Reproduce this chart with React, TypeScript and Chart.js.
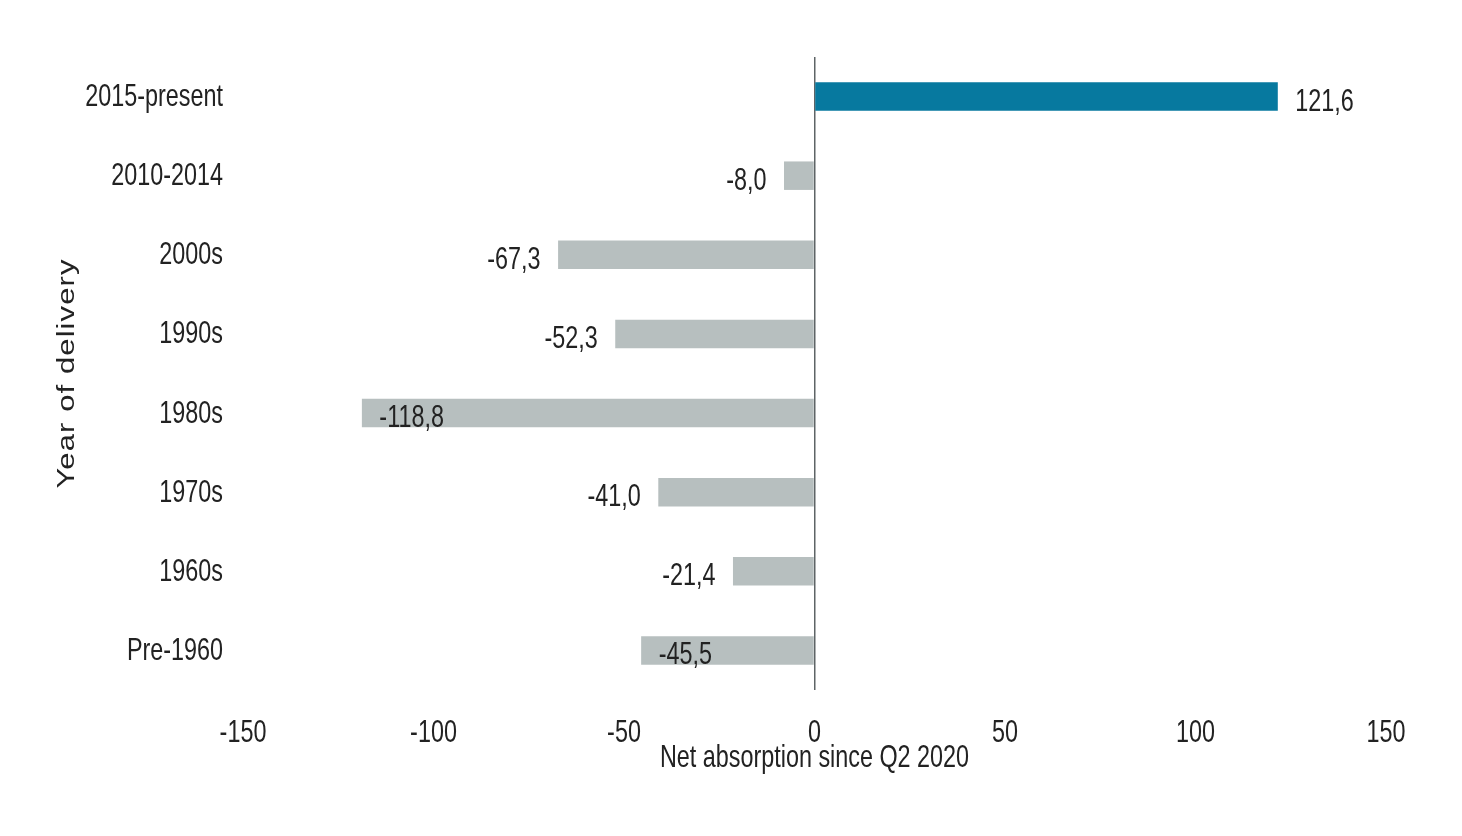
import React, { useEffect, useRef } from 'react';
import { Chart, registerables } from 'chart.js';

Chart.register(...registerables);

const categories = ['2015-present', '2010-2014', '2000s', '1990s', '1980s', '1970s', '1960s', 'Pre-1960'];
const netAbsorption = [121.6, -8.0, -67.3, -52.3, -118.8, -41.0, -21.4, -45.5];
const xTickValues = [-150, -100, -50, 0, 50, 100, 150];
const xTitle = 'Net absorption since Q2 2020';
const yTitle = 'Year of delivery';

const SANS = '"Liberation Sans", Arial, sans-serif';
const TEXT = '#222222';
const POS_COLOR = '#07799f';
const NEG_COLOR = '#b7bfbf';

function drawScaled(ctx: CanvasRenderingContext2D, text: string, x: number, y: number, align: CanvasTextAlign, sx: number) {
  ctx.save();
  ctx.translate(x, y);
  ctx.scale(sx, 1);
  ctx.textAlign = align;
  ctx.textBaseline = 'alphabetic';
  ctx.fillText(text, 0, 0);
  ctx.restore();
}

const narrowText = {
  id: 'narrowText',
  afterDraw(chart: any, _args: any, opts: any) {
    const { ctx, chartArea } = chart;
    const xs = chart.scales.x;
    const ys = chart.scales.y;
    const sx = opts.scaleX;
    ctx.save();
    ctx.fillStyle = opts.color;
    ctx.font = `${opts.size}px ${SANS}`;

    // y tick labels
    (chart.data.labels as string[]).forEach((lab, i) => {
      const py = ys.getPixelForValue(i);
      drawScaled(ctx, lab, chartArea.left - opts.yTickGap, py + opts.yTickDy, 'right', sx);
    });

    // x tick labels
    xTickValues.forEach((v) => {
      const px = xs.getPixelForValue(v);
      drawScaled(ctx, String(v), px, chartArea.bottom + opts.xTickDy, 'center', sx);
    });

    // x title
    drawScaled(ctx, xTitle, (chartArea.left + chartArea.right) / 2, chartArea.bottom + opts.xTitleDy, 'center', sx);

    // value labels
    const meta = chart.getDatasetMeta(0);
    const data = chart.data.datasets[0].data as number[];
    meta.data.forEach((bar: any, i: number) => {
      const v = data[i];
      const { x, y } = bar.getProps(['x', 'y'], true);
      const txt = v.toFixed(1).replace('.', ',');
      const inside = opts.placement[i] === 'inside';
      if (v >= 0 || inside) {
        drawScaled(ctx, txt, x + opts.valueGap, y + opts.valueDy, 'left', sx);
      } else {
        drawScaled(ctx, txt, x - opts.valueGap, y + opts.valueDy, 'right', sx);
      }
    });

    // y title (rotated)
    ctx.save();
    ctx.font = `${opts.yTitleSize}px ${SANS}`;
    (ctx as any).letterSpacing = opts.yTitleSpacing;
    ctx.translate(opts.yTitleX, (chartArea.top + chartArea.bottom) / 2 + opts.yTitleDy);
    ctx.rotate(-Math.PI / 2);
    ctx.scale(opts.yTitleScale, 1);
    ctx.textAlign = 'center';
    ctx.textBaseline = 'alphabetic';
    ctx.fillText(yTitle, 0, 0);
    ctx.restore();

    ctx.restore();
  },
};

export default function App() {
  const ref = useRef<HTMLCanvasElement | null>(null);

  useEffect(() => {
    if (!ref.current) return;
    const chart = new Chart(ref.current, {
      type: 'bar',
      data: {
        labels: categories,
        datasets: [
          {
            data: netAbsorption,
            backgroundColor: netAbsorption.map((v) => (v >= 0 ? POS_COLOR : NEG_COLOR)),
            borderWidth: 0,
            barPercentage: 0.36,
            categoryPercentage: 1,
          },
        ],
      },
      options: {
        indexAxis: 'y',
        animation: false,
        responsive: true,
        maintainAspectRatio: false,
        layout: { padding: { top: 57, right: 76, left: 0, bottom: 61.6 } },
        plugins: {
          legend: { display: false },
          tooltip: { enabled: false },
          narrowText: {
            color: TEXT,
            size: 32,
            scaleX: 0.73,
            yTickGap: 20,
            yTickDy: 9.5,
            xTickDy: 52,
            xTitleDy: 77,
            valueGap: 17.5,
            valueDy: 14,
            placement: ['outside', 'outside', 'outside', 'outside', 'inside', 'outside', 'outside', 'inside'],
            yTitleSize: 23,
            yTitleScale: 1.35,
            yTitleSpacing: '0.8px',
            yTitleX: 73.5,
            yTitleDy: 0,
          },
        } as any,
        scales: {
          x: {
            type: 'linear',
            min: -150,
            max: 150,
            afterBuildTicks: (scale: any) => {
              scale.ticks = xTickValues.map((v) => ({ value: v }));
            },
            afterFit: (scale: any) => {
              scale.height = 84.4;
            },
            grid: {
              display: true,
              drawTicks: false,
              color: (c: any) => (c.tick && c.tick.value === 0 ? '#5e6466' : 'rgba(0,0,0,0)'),
              lineWidth: 1.5,
            },
            border: { display: false },
            ticks: { display: false },
            title: { display: false },
          },
          y: {
            type: 'category',
            afterFit: (scale: any) => {
              scale.width = 243;
            },
            grid: { display: false, drawTicks: false },
            border: { display: false },
            ticks: { display: false },
            title: { display: false },
          },
        },
      },
      plugins: [narrowText],
    });
    return () => chart.destroy();
  }, []);

  return (
    <div style={{ position: 'absolute', left: 0, top: 0, width: 1462, height: 836, background: '#fff' }}>
      <canvas ref={ref} />
    </div>
  );
}
